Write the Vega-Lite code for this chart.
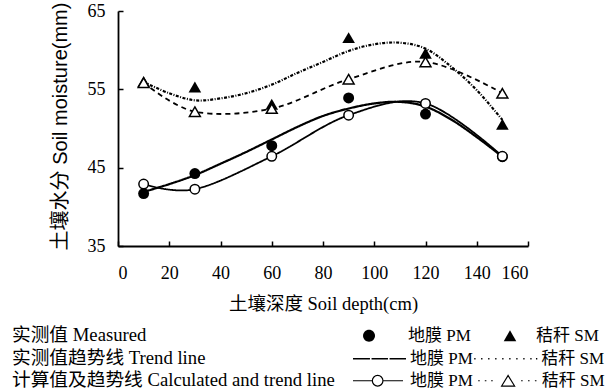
{
  "$schema": "https://vega.github.io/schema/vega-lite/v6.json",
  "width": 410,
  "height": 235,
  "autosize": {"type": "none"},
  "padding": {"left": 118, "top": 11, "right": 84, "bottom": 145},
  "background": "white",
  "config": {
    "view": {"stroke": null},
    "axis": {
      "domainColor": "black", "domainWidth": 1.8,
      "tickColor": "black", "tickWidth": 1.5, "tickSize": -5,
      "labelFont": "Liberation Serif", "labelFontSize": 18, "labelColor": "black",
      "grid": false,
      "titleColor": "black", "titleFontWeight": "normal", "titleFontSize": 18.5
    },
    "legend": {
      "orient": "none", "direction": "horizontal", "titleOrient": "left",
      "titleFont": "Liberation Serif, Noto Sans CJK SC", "titleFontSize": 18.7, "titleFontWeight": "normal", "titleColor": "black",
      "titleLimit": 400, "titleBaseline": "line-top", "titleLineHeight": 19,
      "labelFont": "Liberation Serif, Noto Sans CJK SC", "labelFontSize": 17, "labelColor": "black", "labelLimit": 200,
      "padding": 0, "symbolSize": 2809, "labelOffset": 3, "columnPadding": 9, "symbolOpacity": 1
    }
  },
  "datasets": {
    "measured": [
      {"depth": 10, "moisture": 41.7, "treatment": "地膜 PM"},
      {"depth": 30, "moisture": 44.25, "treatment": "地膜 PM"},
      {"depth": 60, "moisture": 47.8, "treatment": "地膜 PM"},
      {"depth": 90, "moisture": 53.9, "treatment": "地膜 PM"},
      {"depth": 120, "moisture": 51.85, "treatment": "地膜 PM"},
      {"depth": 150, "moisture": 46.4, "treatment": "地膜 PM"},
      {"depth": 10, "moisture": 56.0, "treatment": "秸秆 SM"},
      {"depth": 30, "moisture": 55.3, "treatment": "秸秆 SM"},
      {"depth": 60, "moisture": 53.1, "treatment": "秸秆 SM"},
      {"depth": 90, "moisture": 61.6, "treatment": "秸秆 SM"},
      {"depth": 120, "moisture": 59.6, "treatment": "秸秆 SM"},
      {"depth": 150, "moisture": 50.55, "treatment": "秸秆 SM"}
    ],
    "trend": [
      {"depth": 10, "moisture": 41.9, "treatment": "地膜 PM"},
      {"depth": 20, "moisture": 42.9, "treatment": "地膜 PM"},
      {"depth": 30, "moisture": 44.05, "treatment": "地膜 PM"},
      {"depth": 40, "moisture": 45.5, "treatment": "地膜 PM"},
      {"depth": 50, "moisture": 47.0, "treatment": "地膜 PM"},
      {"depth": 60, "moisture": 48.6, "treatment": "地膜 PM"},
      {"depth": 70, "moisture": 50.2, "treatment": "地膜 PM"},
      {"depth": 80, "moisture": 51.6, "treatment": "地膜 PM"},
      {"depth": 90, "moisture": 52.55, "treatment": "地膜 PM"},
      {"depth": 100, "moisture": 53.2, "treatment": "地膜 PM"},
      {"depth": 110, "moisture": 53.4, "treatment": "地膜 PM"},
      {"depth": 120, "moisture": 52.8, "treatment": "地膜 PM"},
      {"depth": 130, "moisture": 51.15, "treatment": "地膜 PM"},
      {"depth": 140, "moisture": 48.9, "treatment": "地膜 PM"},
      {"depth": 150, "moisture": 46.4, "treatment": "地膜 PM"},
      {"depth": 10, "moisture": 55.95, "treatment": "秸秆 SM"},
      {"depth": 20, "moisture": 54.5, "treatment": "秸秆 SM"},
      {"depth": 30, "moisture": 53.6, "treatment": "秸秆 SM"},
      {"depth": 40, "moisture": 53.85, "treatment": "秸秆 SM"},
      {"depth": 50, "moisture": 54.5, "treatment": "秸秆 SM"},
      {"depth": 60, "moisture": 55.6, "treatment": "秸秆 SM"},
      {"depth": 70, "moisture": 57.1, "treatment": "秸秆 SM"},
      {"depth": 80, "moisture": 58.5, "treatment": "秸秆 SM"},
      {"depth": 90, "moisture": 59.9, "treatment": "秸秆 SM"},
      {"depth": 100, "moisture": 60.75, "treatment": "秸秆 SM"},
      {"depth": 110, "moisture": 60.95, "treatment": "秸秆 SM"},
      {"depth": 120, "moisture": 60.2, "treatment": "秸秆 SM"},
      {"depth": 130, "moisture": 57.9, "treatment": "秸秆 SM"},
      {"depth": 140, "moisture": 54.9, "treatment": "秸秆 SM"},
      {"depth": 150, "moisture": 51.1, "treatment": "秸秆 SM"}
    ],
    "calculated": [
      {"depth": 10, "moisture": 42.9, "treatment": "地膜 PM"},
      {"depth": 30, "moisture": 42.25, "treatment": "地膜 PM"},
      {"depth": 60, "moisture": 46.45, "treatment": "地膜 PM"},
      {"depth": 90, "moisture": 51.7, "treatment": "地膜 PM"},
      {"depth": 120, "moisture": 53.2, "treatment": "地膜 PM"},
      {"depth": 150, "moisture": 46.45, "treatment": "地膜 PM"},
      {"depth": 10, "moisture": 55.85, "treatment": "秸秆 SM"},
      {"depth": 30, "moisture": 52.15, "treatment": "秸秆 SM"},
      {"depth": 60, "moisture": 52.55, "treatment": "秸秆 SM"},
      {"depth": 90, "moisture": 56.3, "treatment": "秸秆 SM"},
      {"depth": 120, "moisture": 58.5, "treatment": "秸秆 SM"},
      {"depth": 150, "moisture": 54.5, "treatment": "秸秆 SM"}
    ]
  },
  "encoding": {
    "x": {
      "field": "depth", "type": "quantitative",
      "scale": {"domain": [0, 160], "nice": false, "zero": false},
      "axis": {
        "values": [0, 20, 40, 60, 80, 100, 120, 140, 160],
        "labelPadding": 23, "labelAngle": 0,
        "title": "土壤深度 Soil depth(cm)",
        "titleFont": "Liberation Serif, Noto Sans CJK SC",
        "titleY": 57, "titleBaseline": "middle"
      }
    },
    "y": {
      "field": "moisture", "type": "quantitative",
      "scale": {"domain": [35, 65], "nice": false, "zero": false},
      "axis": {
        "values": [35, 45, 55, 65],
        "labelPadding": 18,
        "title": "土壤水分 Soil moisture(mm)",
        "titleFont": "Liberation Sans, Noto Sans CJK SC", "titleColor": "#000000", "titleFontSize": 20,
        "titleX": -58, "titleY": 115, "titleBaseline": "middle", "titleAlign": "center"
      }
    }
  },
  "layer": [
    {
      "data": {"name": "trend"},
      "mark": {"type": "line", "color": "black", "strokeWidth": 2.2, "interpolate": "cardinal"},
      "encoding": {
        "strokeDash": {
          "field": "treatment", "type": "nominal",
          "scale": {"domain": ["地膜 PM", "秸秆 SM"], "range": [[1, 0], [3, 1.5, 1, 1.5]]},
          "legend": null
        }
      }
    },
    {
      "data": {"name": "calculated"},
      "mark": {"type": "line", "color": "black", "strokeWidth": 1.8, "interpolate": "cardinal"},
      "encoding": {
        "strokeDash": {
          "field": "treatment", "type": "nominal",
          "scale": {"domain": ["地膜 PM", "秸秆 SM"], "range": [[1, 0], [5, 4]]},
          "legend": null
        }
      }
    },
    {
      "data": {"name": "measured"},
      "mark": {"type": "point", "filled": true, "color": "black", "opacity": 1, "size": 120, "strokeWidth": 0},
      "encoding": {
        "shape": {
          "field": "treatment", "type": "nominal",
          "scale": {"domain": ["地膜 PM", "秸秆 SM"], "range": ["circle", "M0,-1L1.15,1L-1.15,1Z"]},
          "legend": null
        }
      }
    },
    {
      "data": {"name": "calculated"},
      "mark": {"type": "point", "filled": true, "fill": "white", "stroke": "black", "strokeWidth": 1.5, "opacity": 1, "size": 90},
      "encoding": {
        "shape": {
          "field": "treatment", "type": "nominal",
          "scale": {"domain": ["地膜 PM", "秸秆 SM"], "range": ["circle", "M0,-1L1.15,1L-1.15,1Z"]},
          "legend": null
        }
      }
    },
    {
      "data": {"name": "measured"},
      "transform": [{"filter": "false"}],
      "mark": {"type": "point", "filled": true, "color": "black", "strokeWidth": 0},
      "encoding": {
        "shape": {
          "field": "treatment", "type": "nominal",
          "scale": {"domain": ["地膜 PM", "秸秆 SM"], "range": [
            "M-0.584,0A0.226,0.226 0 1,0 -0.132,0A0.226,0.226 0 1,0 -0.584,0Z",
            "M0.132,-0.21L0.369,0.21L-0.105,0.21Z"
          ]},
          "legend": {
            "title": "实测值 Measured",
            "legendX": -106, "legendY": 298,
            "titlePadding": 205,
            "symbolFillColor": "black", "symbolStrokeColor": "black", "symbolStrokeWidth": 0
          }
        }
      }
    },
    {
      "data": {"name": "trend"},
      "transform": [{"filter": "false"}],
      "mark": {"type": "point", "filled": false, "color": "black", "strokeWidth": 1.3},
      "encoding": {
        "shape": {
          "field": "treatment", "type": "nominal",
          "scale": {"domain": ["地膜 PM", "秸秆 SM"], "range": [
            "M-1,0H-0.36M-0.3,0H0.32M0.38,0H1",
            "M-1.38,0H-1.33M-1.12,0H-1.07M-0.855,0H-0.805M-0.59,0H-0.54M-0.325,0H-0.275M-0.06,0H-0.01M0.205,0H0.255M0.47,0H0.52M0.735,0H0.785M0.95,0H1"
          ]},
          "legend": {
            "title": "实测值趋势线 Trend line",
            "legendX": -106, "legendY": 320,
            "titlePadding": 146, "columnPadding": -1.7,
            "symbolFillColor": "transparent", "symbolStrokeColor": "black", "symbolStrokeWidth": 1.3
          }
        }
      }
    },
    {
      "data": {"name": "calculated"},
      "transform": [{"filter": "false"}],
      "mark": {"type": "point", "filled": false, "color": "black", "strokeWidth": 1.2},
      "encoding": {
        "shape": {
          "field": "treatment", "type": "nominal",
          "scale": {"domain": ["地膜 PM", "秸秆 SM"], "range": [
            "M-1,0H-0.27M0.13,0H0.887M-0.27,0A0.2,0.2 0 1,0 0.13,0A0.2,0.2 0 1,0 -0.27,0Z",
            "M-1.25,0H-1.19M-1.0,0H-0.94M-0.76,0H-0.7M-0.12,-0.2L0.125,0.2L-0.365,0.2ZM0.37,0H0.43M0.63,0H0.69M0.89,0H0.95"
          ]},
          "legend": {
            "title": "计算值及趋势线 Calculated and trend line",
            "legendX": -106, "legendY": 342,
            "titlePadding": 17, "columnPadding": 1.8,
            "symbolFillColor": "transparent", "symbolStrokeColor": "black", "symbolStrokeWidth": 1.2
          }
        }
      }
    }
  ],
  "resolve": {"scale": {"shape": "independent", "strokeDash": "independent"}}
}
